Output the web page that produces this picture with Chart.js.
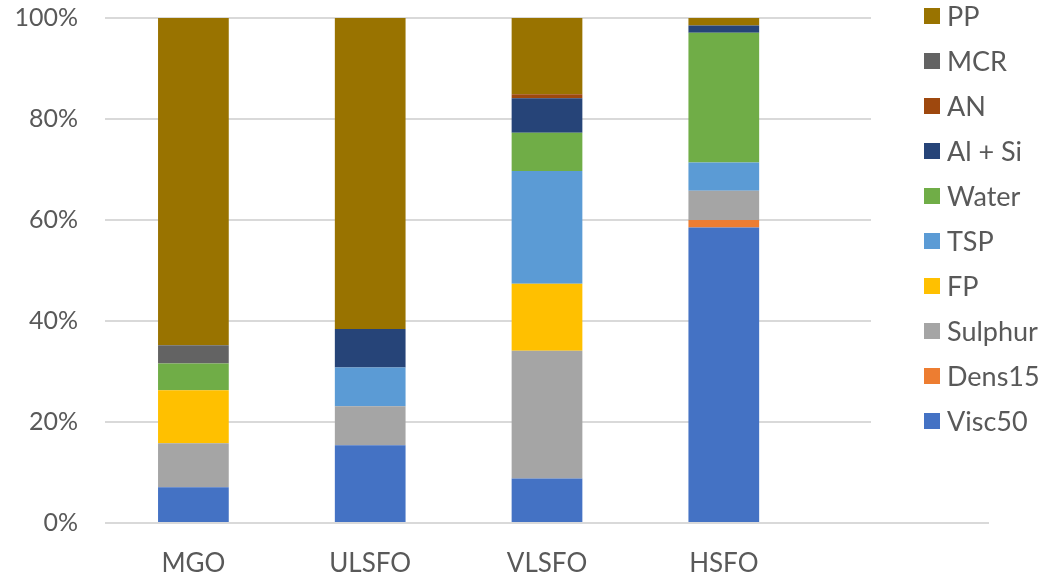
<!DOCTYPE html>
<html>
<head>
<meta charset="utf-8">
<script src="https://cdn.jsdelivr.net/npm/chart.js@4.4.1/dist/chart.umd.min.js"></script>
<style>
  html, body { margin: 0; padding: 0; background: #fff; }
  #wrap { width: 1043px; height: 576px; }
</style>
</head>
<body>
<div id="wrap"><canvas id="myChart"></canvas></div>
<script>
// categories (5th slot is empty, the legend sits over it)
const fuels = ['MGO', 'ULSFO', 'VLSFO', 'HSFO', ''];
const yTicks = [0, 20, 40, 60, 80, 100];

// shares in %, bottom to top
const visc50  = [7.1, 15.4, 8.8, 58.5];
const dens15  = [0, 0, 0, 1.5];
const sulphur = [8.7, 7.7, 25.3, 5.8];
const fp      = [10.5, 0, 13.3, 0];
const tsp     = [0, 7.7, 22.3, 5.6];
const water   = [5.3, 0, 7.6, 25.7];
const alsi    = [0, 7.6, 6.8, 1.4];
const an      = [0, 0, 0.8, 0];
const mcr     = [3.6, 0, 0, 0];
const pp      = [64.8, 61.6, 15.2, 1.5];

const seriesNames = ['Visc50', 'Dens15', 'Sulphur', 'FP', 'TSP', 'Water', 'Al + Si', 'AN', 'MCR', 'PP'];
const seriesData = [visc50, dens15, sulphur, fp, tsp, water, alsi, an, mcr, pp];
const seriesColors = ['#4472C4', '#ED7D31', '#A5A5A5', '#FFC000', '#5B9BD5', '#70AD47', '#264478', '#9E480E', '#636363', '#997300'];

const FONT = 'Lato, "Open Sans", sans-serif';
const TEXT = '#595959';

// legend drawn on the right, over the empty category (hides gridlines there)
const sideLegend = {
  id: 'sideLegend',
  afterDraw(chart) {
    const c = chart.ctx;
    c.save();
    c.fillStyle = '#fff';
    c.fillRect(871, 0, 172, 470);
    c.font = '27px ' + FONT;
    c.textBaseline = 'middle';
    c.textAlign = 'left';
    const ds = chart.data.datasets;
    for (let i = 0; i < ds.length; i++) {
      const d = ds[ds.length - 1 - i];
      const y = 16 + i * 45;
      c.fillStyle = d.backgroundColor;
      c.fillRect(924, y - 8, 16, 16);
      c.fillStyle = TEXT;
      c.fillText(d.label, 947, y + 1);
    }
    c.restore();
  }
};

const ctx = document.getElementById('myChart').getContext('2d');
const myChart = new Chart(ctx, {
  type: 'bar',
  data: {
    labels: fuels,
    datasets: seriesNames.map((name, i) => ({
      label: name,
      data: seriesData[i],
      backgroundColor: seriesColors[i],
      borderWidth: 0,
      barPercentage: 0.4,
      categoryPercentage: 1
    }))
  },
  options: {
    responsive: true,
    maintainAspectRatio: false,
    animation: false,
    layout: { padding: { top: 18, right: 54, left: 0, bottom: 0 } },
    plugins: {
      legend: { display: false },
      tooltip: { enabled: false }
    },
    scales: {
      x: {
        stacked: true,
        grid: { display: false },
        border: { display: false },
        ticks: { color: TEXT, font: { family: FONT, size: 26 }, padding: 17, maxRotation: 0 },
        afterFit(scale) { scale.height = 53; }
      },
      y: {
        stacked: true,
        min: 0,
        max: 100,
        afterBuildTicks(scale) { scale.ticks = yTicks.map(v => ({ value: v })); },
        ticks: {
          color: TEXT,
          font: { family: FONT, size: 25 },
          padding: 27,
          callback: v => v + '%'
        },
        grid: { color: '#d9d9d9', lineWidth: 2, drawTicks: false },
        border: { display: false },
        afterFit(scale) {
          scale.width = 105;
          scale.paddingTop = 0;
          scale.paddingBottom = 0;
        }
      }
    }
  },
  plugins: [sideLegend]
});
</script>
</body>
</html>
